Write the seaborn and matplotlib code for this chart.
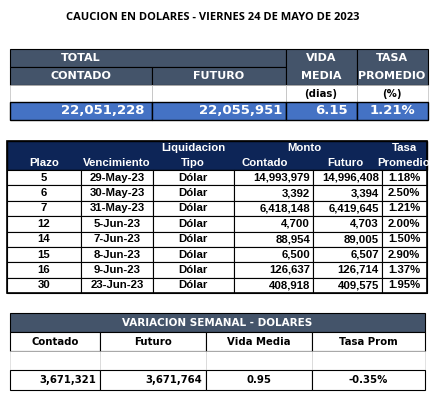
import matplotlib
matplotlib.use("Agg")
import matplotlib.pyplot as plt
import seaborn as sns
from matplotlib.patches import Rectangle

sns.set_theme(style="white")
plt.rcParams['font.family'] = ['Liberation Sans Narrow', 'Liberation Sans', 'DejaVu Sans']

# datos
titulo = "CAUCION EN DOLARES - VIERNES 24 DE MAYO DE 2023"
total_contado = "22,051,228"
total_futuro = "22,055,951"
vida_media = "6.15"
tasa_promedio = "1.21%"

plazo = ["5", "6", "7", "12", "14", "15", "16", "30"]
vencimiento = ["29-May-23", "30-May-23", "31-May-23", "5-Jun-23", "7-Jun-23", "8-Jun-23", "9-Jun-23", "23-Jun-23"]
tipo = ["Dólar"] * 8
contado = ["14,993,979", "3,392", "6,418,148", "4,700", "88,954", "6,500", "126,637", "408,918"]
futuro = ["14,996,408", "3,394", "6,419,645", "4,703", "89,005", "6,507", "126,714", "409,575"]
tasa = ["1.18%", "2.50%", "1.21%", "2.00%", "1.50%", "2.90%", "1.37%", "1.95%"]

var_contado = "3,671,321"
var_futuro = "3,671,764"
var_vida = "0.95"
var_tasa = "-0.35%"

fig = plt.figure(figsize=(4.4, 4.01), dpi=100)
ax = fig.add_axes([0, 0, 1, 1])
ax.set_xlim(0, 440)
ax.set_ylim(401, 0)
ax.axis("off")

GRIS = "#44546a"
AZUL = "#4472c4"
NAVY = "#0d2557"


def celda(x0, y0, x1, y1, fc="white", ec="black", lw=0.8):
    ax.add_patch(Rectangle((x0, y0), x1 - x0, y1 - y0, facecolor=fc, edgecolor=ec, linewidth=lw))


def txt(x, y, s, size=7, color="black", ha="center", weight="bold", family=None):
    kw = {}
    if family:
        kw["family"] = family
    ax.text(x, y, s, fontsize=size, color=color, ha=ha, va="center", fontweight=weight, **kw)


sans = ["DejaVu Sans"]
txt(213, 17, titulo, size=8, family=["Open Sans", "DejaVu Sans"])

# resumen superior
cols = [10, 152, 286, 357, 428]
celda(10, 49, 286, 67, GRIS)
celda(10, 67, 152, 85, GRIS)
celda(152, 67, 286, 85, GRIS)
celda(286, 49, 357, 85, GRIS)
celda(357, 49, 428, 85, GRIS)
txt(81, 58, "TOTAL", 8, "white", family=sans)
txt(81, 76, "CONTADO", 8, "white", family=sans)
txt(219, 76, "FUTURO", 8, "white", family=sans)
txt(321, 58, "VIDA", 8, "white", family=sans)
txt(321, 76, "MEDIA", 8, "white", family=sans)
txt(392, 58, "TASA", 8, "white", family=sans)
txt(392, 76, "PROMEDIO", 8, "white", family=sans)
for x0, x1 in zip(cols[:-1], cols[1:]):
    celda(x0, 85, x1, 102, "white", "#bbbbbb", 0.5)
txt(321, 94, "(dias)", 7.3, family=sans)
txt(392, 94, "(%)", 7.3, family=sans)
for x0, x1 in zip(cols[:-1], cols[1:]):
    celda(x0, 102, x1, 120, AZUL, "black", 1.0)
txt(144, 111, total_contado, 9.5, "white", "right", family=sans)
txt(282, 111, total_futuro, 9.5, "white", "right", family=sans)
txt(348, 111, vida_media, 9.5, "white", "right", family=sans)
txt(392, 111, tasa_promedio, 9.5, "white", family=sans)

# tabla principal
fs = 8.2
tx = [7, 81, 153, 234, 313, 382, 427]
celda(7, 141, 427, 170, NAVY, "black", 1.0)
txt(44, 163, "Plazo", fs, "white")
txt(117, 163, "Vencimiento", fs, "white")
txt(193, 148, "Liquidacion", fs, "white")
txt(193, 163, "Tipo", fs, "white")
txt(304, 148, "Monto", fs, "white")
txt(265, 163, "Contado", fs, "white")
txt(345, 163, "Futuro", fs, "white")
txt(404, 148, "Tasa", fs, "white")
txt(404, 163, "Promedio", fs, "white")
rh = (293 - 170) / len(plazo)
for i in range(len(plazo)):
    y0 = 170 + i * rh
    for x0, x1 in zip(tx[:-1], tx[1:]):
        celda(x0, y0, x1, y0 + rh, "white", "black", 0.8)
    yc = y0 + rh / 2
    txt(44, yc, plazo[i], fs)
    txt(117, yc, vencimiento[i], fs)
    txt(193, yc, tipo[i], fs)
    txt(310, yc, contado[i], fs, ha="right")
    txt(379, yc, futuro[i], fs, ha="right")
    txt(404, yc, tasa[i], fs)
ax.add_patch(Rectangle((7, 141), 420, 152, fill=False, edgecolor="black", linewidth=1.2))

# variacion semanal
bx = [10, 100, 206, 312, 425]
celda(10, 313, 425, 332, GRIS)
txt(217, 323, "VARIACION SEMANAL - DOLARES", 7.5, "white", family=sans)
for x0, x1 in zip(bx[:-1], bx[1:]):
    celda(x0, 332, x1, 351, "white", "black", 0.8)
    celda(x0, 351, x1, 370, "white", "#cccccc", 0.4)
    celda(x0, 370, x1, 390, "white", "black", 0.8)
for x, s in zip([55, 153, 259, 368], ["Contado", "Futuro", "Vida Media", "Tasa Prom"]):
    txt(x, 342, s, 7.3, family=sans)
txt(96, 380, var_contado, 7.3, ha="right", family=sans)
txt(202, 380, var_futuro, 7.3, ha="right", family=sans)
txt(259, 380, var_vida, 7.3, family=sans)
txt(368, 380, var_tasa, 7.3, family=sans)

fig.savefig("out.png", dpi=100, facecolor="white")
